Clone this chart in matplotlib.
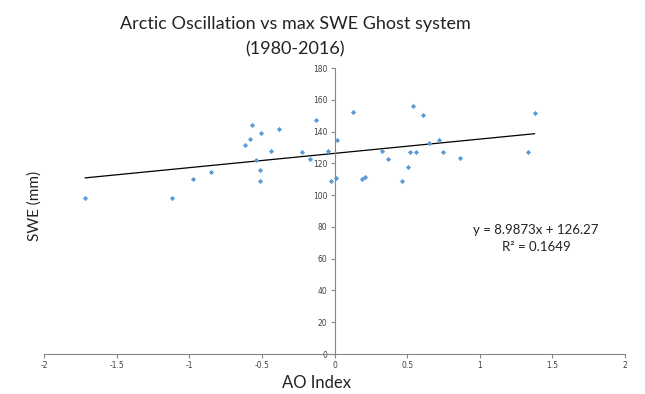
import matplotlib.pyplot as plt
import numpy as np

# AO index vs max SWE (mm), 1980-2016
ao_index = [-1.716, -1.116, -0.971, -0.852, -0.614, -0.579, -0.568, -0.543,
            -0.513, -0.513, -0.506, -0.435, -0.383, -0.222, -0.170, -0.128,
            -0.046, -0.023, 0.007, 0.018, 0.126, 0.186, 0.211, 0.328, 0.369,
            0.463, 0.504, 0.518, 0.541, 0.559, 0.607, 0.649, 0.720, 0.750,
            0.862, 1.330, 1.377]
swe_mm = [98.2, 98.2, 109.9, 114.5, 131.3, 135.1, 144.3, 122.1,
          115.6, 109.1, 138.8, 127.5, 141.6, 126.9, 122.7, 147.0,
          128.0, 109.0, 110.8, 134.7, 152.5, 109.9, 111.3, 127.5, 122.7,
          109.0, 117.6, 127.1, 155.9, 127.1, 150.4, 133.0, 134.7, 127.1,
          123.1, 127.1, 151.4]

slope = 8.9873
intercept = 126.27
r2 = 0.1649

xticks = [-2, -1.5, -1, -0.5, 0, 0.5, 1, 1.5, 2]
xtick_labels = ["-2", "-1.5", "-1", "-0.5", "0", "0.5", "1", "1.5", "2"]
yticks = [0, 20, 40, 60, 80, 100, 120, 140, 160, 180]

W, H = 645, 394
fig = plt.figure(figsize=(W / 100, H / 100), dpi=100)
ax = fig.add_axes([44 / W, 1 - 354 / H, (625 - 44) / W, (354 - 68) / H])

ax.scatter(ao_index, swe_mm, marker="D", s=7, color="#5B9BD5", zorder=3, linewidths=0)

xs = np.array([min(ao_index), max(ao_index)])
ax.plot(xs, slope * xs + intercept, color="black", lw=0.9, zorder=2)

ax.set_xlim(-2, 2)
ax.set_ylim(0, 180)
ax.set_xticks(xticks)
ax.set_xticklabels(xtick_labels)
ax.set_yticks(yticks)

# axes cross at the origin, Excel style
ax.spines["left"].set_position(("data", 0))
ax.spines["bottom"].set_position(("data", 0))
ax.spines["right"].set_visible(False)
ax.spines["top"].set_visible(False)
for s in ("left", "bottom"):
    ax.spines[s].set_color("#868686")
    ax.spines[s].set_linewidth(0.8)
ax.tick_params(axis="both", direction="out", length=3, width=0.8, color="#868686",
               labelsize=5.5, labelcolor="#404040", pad=2)

font = ["Lato", "DejaVu Sans"]
fig.text(295 / W, 1 - 24 / H, "Arctic Oscillation vs max SWE Ghost system",
         ha="center", va="center", fontsize=13, family=font, color="#222222")
fig.text(295 / W, 1 - 49 / H, "(1980-2016)",
         ha="center", va="center", fontsize=13, family=font, color="#222222")
fig.text(35 / W, 1 - 206 / H, "SWE (mm)", rotation=90, ha="center", va="center",
         fontsize=11, family=font, color="#222222")
fig.text(316 / W, 1 - 383 / H, "AO Index", ha="center", va="center",
         fontsize=12, family=font, color="#222222")

fig.text(536 / W, 1 - 230 / H, f"y = {slope}x + {intercept}", ha="center", va="center",
         fontsize=9.5, family=font, color="#222222")
fig.text(536 / W, 1 - 247 / H, f"R² = {r2}", ha="center", va="center",
         fontsize=9.5, family=font, color="#222222")

fig.savefig("out.png", dpi=100)
